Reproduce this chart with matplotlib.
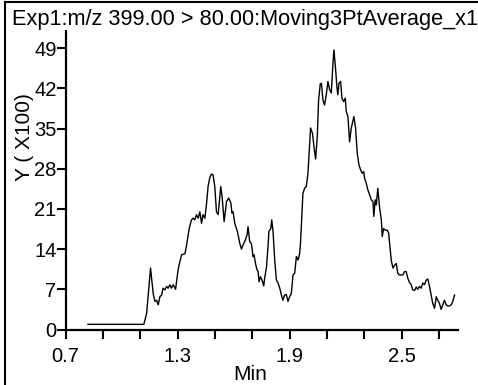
#!/usr/bin/env python
# -*- coding: utf-8 -*-
"""Chromatogram trace: Exp1 m/z 399.00 > 80.00, 3-point moving average."""
import matplotlib
matplotlib.use('Agg')
import matplotlib.pyplot as plt
from matplotlib.lines import Line2D

# retention time (min) and intensity (x100 counts)
rt_min = [
    0.820, 1.119, 1.134, 1.155, 1.169, 1.178, 1.187, 1.196, 1.205, 1.214,
    1.222, 1.232, 1.241, 1.249, 1.258, 1.267, 1.276, 1.289, 1.300, 1.306,
    1.321, 1.339, 1.348, 1.362, 1.374, 1.383, 1.392, 1.401, 1.410, 1.419,
    1.428, 1.436, 1.446, 1.455, 1.463, 1.472, 1.481, 1.490, 1.499, 1.508,
    1.517, 1.526, 1.531, 1.538, 1.549, 1.562, 1.574, 1.585, 1.591, 1.597,
    1.606, 1.620, 1.633, 1.642, 1.650, 1.663, 1.672, 1.677, 1.686, 1.695,
    1.704, 1.709, 1.717, 1.725, 1.731, 1.736, 1.743, 1.752, 1.761, 1.766,
    1.776, 1.784, 1.789, 1.799, 1.804, 1.811, 1.820, 1.829, 1.838, 1.847,
    1.856, 1.864, 1.873, 1.882, 1.891, 1.900, 1.909, 1.918, 1.927, 1.936,
    1.945, 1.954, 1.959, 1.971, 1.980, 1.989, 1.998, 2.012, 2.022, 2.030,
    2.039, 2.048, 2.055, 2.064, 2.070, 2.078, 2.087, 2.096, 2.105, 2.114,
    2.123, 2.132, 2.137, 2.145, 2.153, 2.158, 2.164, 2.173, 2.180, 2.189,
    2.198, 2.203, 2.212, 2.221, 2.230, 2.244, 2.253, 2.262, 2.271, 2.280,
    2.289, 2.297, 2.301, 2.310, 2.319, 2.328, 2.337, 2.346, 2.351, 2.358,
    2.364, 2.372, 2.381, 2.391, 2.396, 2.403, 2.412, 2.423, 2.430, 2.437,
    2.444, 2.453, 2.462, 2.471, 2.479, 2.488, 2.497, 2.506, 2.515, 2.524,
    2.533, 2.542, 2.551, 2.559, 2.569, 2.578, 2.586, 2.595, 2.604, 2.613,
    2.622, 2.631, 2.640, 2.649, 2.658, 2.666, 2.676, 2.685, 2.693, 2.702,
    2.711, 2.720, 2.729, 2.738, 2.747, 2.756, 2.765, 2.773, 2.783,
]
intensity = [
    0.9, 0.9, 2.8, 10.7, 6.3, 4.9, 5.1, 4.3, 5.7, 6.0,
    7.2, 6.9, 7.5, 7.2, 7.8, 7.2, 7.8, 7.0, 9.8, 11.0,
    13.0, 13.2, 14.7, 17.6, 19.1, 19.4, 19.1, 20.0, 19.4, 20.5,
    18.5, 20.0, 19.4, 22.0, 24.9, 26.4, 27.1, 26.9, 24.9, 20.5,
    20.0, 23.2, 24.9, 23.2, 18.8, 22.3, 22.9, 22.0, 20.3, 20.5,
    18.5, 17.1, 15.0, 14.0, 14.7, 15.6, 16.5, 17.9, 15.3, 15.0,
    12.7, 13.0, 11.5, 10.4, 10.1, 8.3, 9.2, 8.6, 7.6, 8.9,
    10.9, 14.4, 17.1, 17.6, 19.1, 17.1, 12.1, 8.6, 8.1, 7.2,
    6.0, 5.1, 6.0, 6.1, 4.9, 5.7, 6.3, 9.5, 9.8, 12.7,
    12.1, 13.3, 15.6, 23.7, 24.6, 24.9, 27.2, 35.1, 34.2, 31.9,
    29.7, 33.6, 40.0, 42.8, 42.9, 40.0, 39.1, 40.9, 43.2, 41.8,
    41.2, 46.4, 48.7, 45.8, 42.3, 40.9, 42.9, 43.2, 40.3, 39.7,
    40.3, 38.0, 37.1, 32.7, 35.1, 37.1, 35.1, 30.7, 28.7, 27.8,
    27.2, 27.5, 26.4, 25.5, 24.3, 23.5, 22.6, 22.3, 19.7, 22.6,
    21.7, 24.6, 21.4, 19.1, 16.2, 17.6, 17.3, 17.3, 16.8, 14.4,
    12.1, 10.7, 11.2, 11.5, 9.8, 9.5, 9.5, 9.5, 10.1, 10.1,
    8.9, 8.2, 7.8, 6.9, 6.8, 7.4, 7.0, 7.5, 7.2, 8.1,
    7.8, 8.6, 8.8, 7.5, 6.0, 4.6, 3.7, 5.7, 5.1, 4.6,
    3.5, 4.3, 5.1, 4.3, 4.1, 4.1, 4.3, 4.8, 6.0,
]

y_ticks = [0, 7, 14, 21, 28, 35, 42, 49]
x_major = [0.7, 1.3, 1.9, 2.5]
x_minor = [0.9, 1.1, 1.5, 1.7, 2.1, 2.3, 2.7]

title = 'Exp1:m/z 399.00 > 80.00:Moving3PtAverage_x1'

plt.rcParams['font.family'] = ['Liberation Sans', 'DejaVu Sans']

W, H = 478, 385
fig = plt.figure(figsize=(W / 100, H / 100), dpi=100)
ax = fig.add_axes([65.6 / W, 1 - 329.5 / H, (457.7 - 65.6) / W, (329.5 - 31) / H])

ax.plot(rt_min, intensity, color='black', lw=1.0)

ax.set_xlim(0.7, 2.8)
ax.set_ylim(0, 52)
ax.set_yticks(y_ticks)
ax.set_xticks(x_major)
ax.set_xticks(x_minor, minor=True)
ax.set_xticklabels(['%.1f' % v for v in x_major])

for side in ('top', 'right'):
    ax.spines[side].set_visible(False)
for side in ('left', 'bottom'):
    ax.spines[side].set_linewidth(1.6)
    ax.spines[side].set_color('black')

ax.tick_params(axis='both', which='both', direction='out', length=6.5,
               width=1.5, color='black', labelsize=14.5)
ax.tick_params(axis='y', pad=0)
ax.tick_params(axis='x', pad=6)

fig.text(12 / W, 1 - 25 / H, title, fontsize=15.7, ha='left', va='baseline')
fig.text(24 / W, 1 - 137 / H, 'Y ( X100)', fontsize=15, rotation=90,
         ha='center', va='center')
# the x label sits right on the lower edge of the canvas
fig.text(250.5 / W, 1 - 380 / H, 'Min', fontsize=15, ha='center', va='baseline')

# outer frame (left and top edges are the only ones inside the canvas)
fig.add_artist(Line2D([5 / W, 5 / W], [0, 1 - 2 / H], color='black', lw=1.5))
fig.add_artist(Line2D([5 / W, 1], [1 - 2 / H, 1 - 2 / H], color='black', lw=1.5))

fig.savefig('out.png', dpi=100)
